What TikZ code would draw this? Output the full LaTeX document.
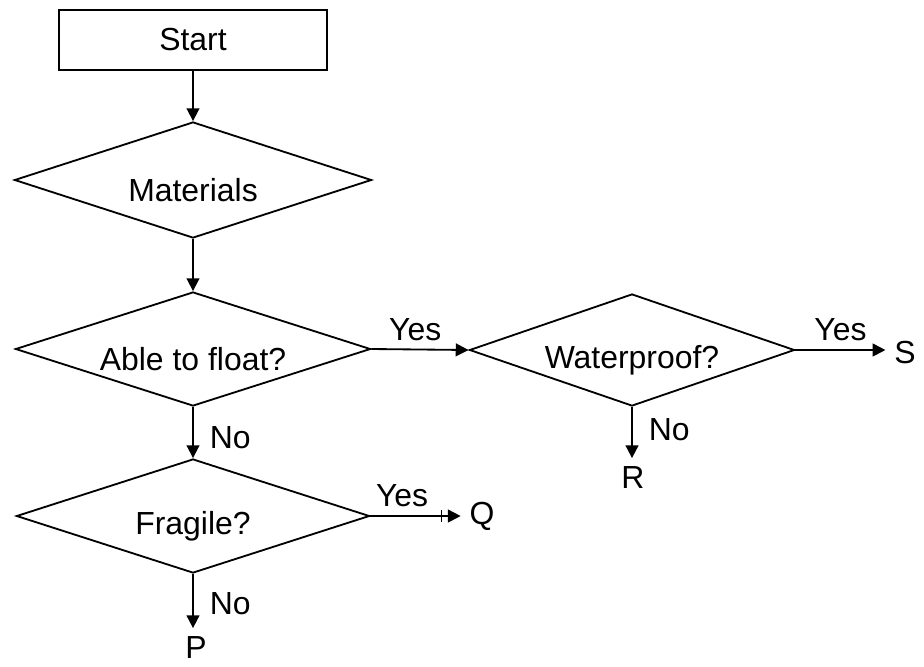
\documentclass[tikz,border=0pt]{standalone}
\usepackage{fontspec}
\setmainfont{Liberation Sans}
\usetikzlibrary{shapes.geometric,arrows.meta}

\begin{document}
\begin{tikzpicture}[x=0.025cm,y=-0.025cm,line width=1.3pt,
    >={Triangle[length=0.32cm,width=0.32cm]},
    font=\fontsize{22.7pt}{27pt}\selectfont,
    startbox/.style={draw,rectangle,minimum width=6.7cm,minimum height=1.5cm},
    decision/.style={draw,diamond,shape aspect=3.1,inner sep=0pt},
    dtext/.style={label={[yshift=-0.25cm]center:#1}},
    outcome/.style={inner sep=0.2cm},
    yeslbl/.style={above,inner sep=0.2cm},
    nolbl/.style={right,inner sep=0.4cm}]
    \useasboundingbox (0,0) rectangle (924,666);

    % Start and decisions
    \node[startbox] (start) at (193,40) {Start};
    \node[decision,dtext=Materials,minimum width=8.925cm,minimum height=2.9cm] (mat) at (193,180) {};
    \node[decision,dtext=Able to float?,minimum width=8.875cm,minimum height=2.85cm] (able) at (193,349) {};
    \node[decision,dtext=Waterproof?,minimum width=8.125cm,minimum height=2.8cm] (wat) at (632,350) {};
    \node[decision,dtext=Fragile?,minimum width=8.825cm,minimum height=2.85cm] (frag) at (193,516) {};

    % Outcomes
    \node[outcome] (S) at (905,353) {S};
    \node[outcome] (R) at (633,478) {R};
    \node[outcome] (Q) at (482,516) {Q};
    \node[outcome] (P) at (196,648) {P};

    % Main flow
    \draw[->] (start) -- (mat);
    \draw[->] (mat) -- (able);
    \draw[->] (able.east) -- node[yeslbl,pos=0.45] (yes1) {Yes} (wat.west);
    \draw[->] (able.south) -- node[nolbl,pos=0.6] (no1) {No} (frag.north);

    % Branches to outcomes
    \draw[->] (wat.east) -- node[yeslbl] (yes2) {Yes} (wat.east -| S.west);
    \draw[->] (wat.south) -- node[nolbl,pos=0.45] (no2) {No} (wat.south |- R.north);
    \draw[-{Bar[width=0.3cm,line width=0.7pt,sep=0.15cm]Triangle[length=0.32cm,width=0.32cm]}]
        (frag.east) -- node[yeslbl,pos=0.35] (yes3) {Yes} (frag.east -| Q.west);
    \draw[->] (frag.south) -- node[nolbl,pos=0.55] (no3) {No} (frag.south |- P.north);
\end{tikzpicture}
\end{document}
